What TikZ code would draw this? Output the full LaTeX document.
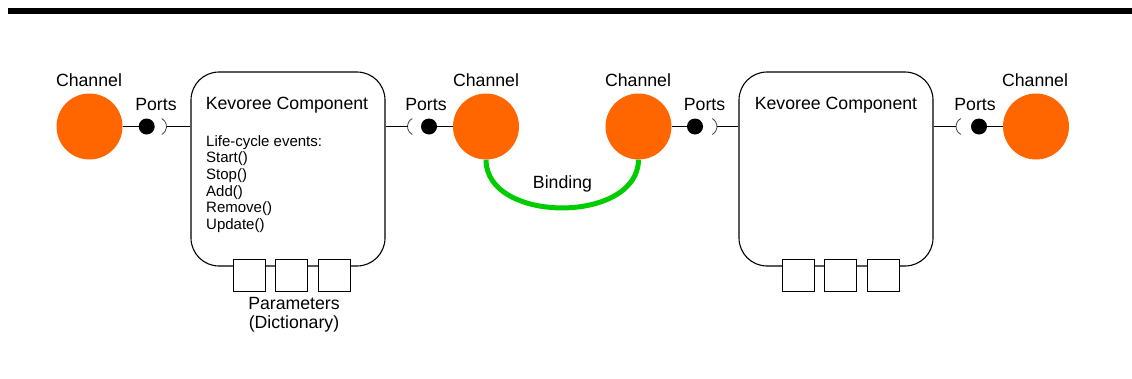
\documentclass[tikz,border=0pt]{standalone}
\usepackage{fontspec}
\setmainfont{Liberation Sans}
\definecolor{chanorange}{RGB}{255,102,0}
\definecolor{bindgreen}{RGB}{0,204,0}
\begin{document}
\begin{tikzpicture}[x=1pt,y=-1pt,
  chan/.style={circle,fill=chanorange,minimum size=66pt,inner sep=0pt},
  ball/.style={circle,fill=black,minimum size=16pt,inner sep=0pt},
  comp/.style={draw,line width=1.1pt,rounded corners=28pt,minimum width=194pt,minimum height=194pt,inner sep=0pt},
  param/.style={draw,fill=white,line width=1pt,minimum size=32pt,inner sep=0pt},
  lbl/.style={font=\fontsize{17.7}{20}\selectfont,inner sep=0pt,anchor=base},
  wire/.style={line width=0.9pt},
  socket/.style={line width=0.8pt,draw=black!75},
]
\useasboundingbox (0,0) rectangle (1132,378);
\fill[black] (8,8) rectangle (1132,14);

% channels
\node[chan] (c1) at (89.5,126.5) {};
\node[chan] (c2) at (486,126.5) {};
\node[chan] (c3) at (638.5,126.5) {};
\node[chan] (c4) at (1036,126.5) {};
\node[lbl] (c1l) at (89,86) {Channel};
\node[lbl] (c2l) at (486,86) {Channel};
\node[lbl] (c3l) at (638,86) {Channel};
\node[lbl] (c4l) at (1035,86) {Channel};

% components
\node[comp] (k1) at (288,169) {};
\node[comp] (k2) at (836,169) {};
\node[lbl] (k1t) at (287,109.3) {Kevoree Component};
\node[lbl] (k2t) at (836,109.3) {Kevoree Component};
\node[anchor=north west,inner sep=0pt,align=left,font=\fontsize{15}{16.7}\selectfont] (k1e) at (206,135)
  {Life-cycle events:\\Start()\\Stop()\\Add()\\Remove()\\Update()};

% parameters
\node[param] (p11) at (249.5,275) {};
\node[param] (p12) at (291,275) {};
\node[param] (p13) at (334,275) {};
\node[param] (p21) at (798.5,275) {};
\node[param] (p22) at (840.5,275) {};
\node[param] (p23) at (883.5,275) {};
\node[lbl,anchor=north,align=center,font=\fontsize{17.7}{19.5}\selectfont] (k1p) at (294,296.7) {Parameters\\(Dictionary)};

% ports
\node[ball] (b1) at (146.7,126.5) {};
\node[ball] (b2) at (429,126.5) {};
\node[ball] (b3) at (695,126.5) {};
\node[ball] (b4) at (979,126.5) {};
\node[lbl] (b1l) at (156,110) {Ports};
\node[lbl] (b2l) at (426,110) {Ports};
\node[lbl] (b3l) at (704.5,110) {Ports};
\node[lbl] (b4l) at (975,110) {Ports};

% sockets
\coordinate (s1c) at (157.5,126.5);
\coordinate (s2c) at (416.5,126.5);
\coordinate (s3c) at (708,126.5);
\coordinate (s4c) at (965,126.5);
\coordinate (s1e) at (166.5,126.5);
\coordinate (s2e) at (407.5,126.5);
\coordinate (s3e) at (717,126.5);
\coordinate (s4e) at (956,126.5);
\draw[socket] ([shift={(-62:9)}]s1c) arc[start angle=-62,end angle=62,radius=9];
\draw[socket] ([shift={(118:9)}]s2c) arc[start angle=118,end angle=242,radius=9];
\draw[socket] ([shift={(-62:9)}]s3c) arc[start angle=-62,end angle=62,radius=9];
\draw[socket] ([shift={(118:9)}]s4c) arc[start angle=118,end angle=242,radius=9];

% wires
\draw[wire] (c1) -- (b1);
\draw[wire] (s1e) -- (s1e -| k1.west);
\draw[wire] (s2e -| k1.east) -- (s2e);
\draw[wire] (b2) -- (c2);
\draw[wire] (c3) -- (b3);
\draw[wire] (s3e) -- (s3e -| k2.west);
\draw[wire] (s4e -| k2.east) -- (s4e);
\draw[wire] (b4) -- (c4);

% binding
\draw[line width=5pt,bindgreen] (c2.south) .. controls (486,224) and (638,224) .. (c3.south);
\node[lbl] (bl) at (562.5,188) {Binding};
\end{tikzpicture}
\end{document}
